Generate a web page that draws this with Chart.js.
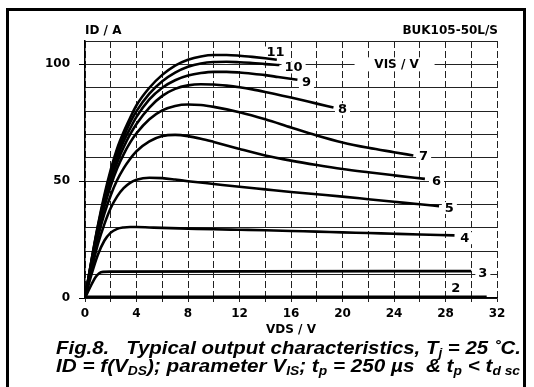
<!DOCTYPE html>
<html>
<head>
<meta charset="utf-8">
<title>BUK105-50L/S output characteristics</title>
<script src="https://cdn.jsdelivr.net/npm/chart.js@4.4.1/dist/chart.umd.min.js"></script>
<style>
  html, body { margin: 0; padding: 0; background: #fff; }
  #wrap { position: relative; width: 534px; height: 387px; overflow: hidden; background: #fff; }
  #frame { position: absolute; left: 6px; top: 8px; width: 520px; height: 440px; border: 3px solid #000; box-sizing: border-box; }
  #chart { position: absolute; left: 0; top: 0; }
  .cap { position: absolute; left: 56px; font: italic bold 18px "Liberation Sans", Arial, sans-serif; line-height: 18px; white-space: pre; color: #000; transform-origin: 0 0; }
  .cap sub { font-size: 12px; vertical-align: -3px; line-height: 0; }
</style>
</head>
<body>
<div id="wrap">
  <div id="frame"></div>
  <canvas id="chart" width="534" height="340"></canvas>
  <div class="cap" id="cap1" style="top:339px">Fig.8.   Typical output characteristics, T<sub>j</sub> = 25 ˚C.</div>
  <div class="cap" id="cap2" style="top:357px">ID = f(V<sub>DS</sub>); parameter V<sub>IS</sub>; t<sub>p</sub> = 250 µs  &amp; t<sub>p</sub> &lt; t<sub>d sc</sub></div>
</div>
<script>
// curves: drain voltage (V) and drain current (A), one pair per VIS value
const vds2 = [0, 0.15, 31.2];
const id2 = [0, 0.4, 0.4];
const vds3 = [0, 0.4, 0.8, 1.1, 1.4, 2, 30];
const id3 = [0, 4.6, 8.8, 10.6, 11.2, 11.3, 11.5];
const vds4 = [0, 0.5, 1, 1.5, 2, 2.5, 3, 3.5, 4, 5, 6, 8, 10, 12, 14, 16, 18, 20, 22, 24, 26, 28.7];
const id4 = [0, 10, 18.5, 24.5, 28, 29.6, 30.2, 30.4, 30.4, 30.2, 30, 29.7, 29.4, 29.2, 29, 28.7, 28.4, 28.1, 27.8, 27.5, 27.2, 26.8];
const vds5 = [0, 0.5, 1, 1.5, 2, 2.5, 3, 3.5, 4, 5, 6, 7, 8, 10, 12, 14, 16, 18, 20, 22, 24, 26, 27.5];
const id5 = [0, 12, 23, 31.5, 38.5, 43.5, 47, 49.3, 50.6, 51.5, 51.3, 50.7, 50, 48.8, 47.6, 46.5, 45.4, 44.4, 43.4, 42.3, 41.2, 40.1, 39.3];
const vds6 = [0, 0.5, 1, 1.5, 2, 2.5, 3, 3.5, 4, 5, 6, 7, 8, 9, 10, 12, 14, 16, 18, 20, 22, 24, 26.4];
const id6 = [0, 13.5, 26, 36, 44, 50.5, 55.5, 59.5, 62.8, 67, 69.3, 69.8, 69.3, 68.2, 66.8, 63.8, 61, 58.8, 56.9, 55.2, 53.8, 52.5, 51];
const vds7 = [0, 0.5, 1, 1.5, 2, 2.5, 3, 3.5, 4, 5, 6, 7, 8, 9, 10, 12, 14, 16, 18, 20, 22, 24, 25.5];
const id7 = [0, 14.5, 28, 39, 48, 55.5, 61.5, 66.5, 70.5, 76.5, 80.3, 82.2, 82.8, 82.6, 81.8, 79.5, 76.5, 73, 69.6, 66.6, 64.3, 62.4, 61];
const vds8 = [0, 0.5, 1, 1.5, 2, 2.5, 3, 3.5, 4, 5, 6, 7, 8, 9, 10, 11, 12, 13, 14, 15, 16, 17, 18, 19.3];
const id8 = [0, 15, 29, 41, 50.5, 58, 64.5, 70, 74.5, 81.5, 86.5, 89.5, 91, 91.5, 91.4, 90.9, 90.2, 89.3, 88.2, 87, 85.8, 84.5, 83.2, 81.5];
const vds9 = [0, 0.5, 1, 1.5, 2, 2.5, 3, 3.5, 4, 5, 6, 7, 8, 9, 10, 11, 12, 13, 14, 15, 16.5];
const id9 = [0, 15.5, 30, 42, 52, 60, 67, 72.5, 77.5, 85, 90, 93.2, 95.2, 96.3, 96.8, 96.8, 96.5, 96, 95.4, 94.6, 93.4];
const vds10 = [0, 0.5, 1, 1.5, 2, 2.5, 3, 3.5, 4, 5, 6, 7, 8, 9, 10, 11, 12, 13, 14, 15.1];
const id10 = [0, 16, 30.5, 43, 53.5, 62, 69, 75, 80, 87.5, 92.8, 96.5, 99, 100.4, 101, 101.1, 100.9, 100.6, 100.1, 99.7];
const vds11 = [0, 0.5, 1, 1.5, 2, 2.5, 3, 3.5, 4, 5, 6, 7, 8, 9, 10, 11, 12, 13, 14, 14.9];
const id11 = [0, 16, 31, 44, 55, 64, 71, 77, 82.5, 90, 95.5, 99.5, 102, 103.4, 104, 104, 103.7, 103.2, 102.6, 102];

// curve names (VIS / V) and where they are written, in axis units
const visNames = ['2', '3', '4', '5', '6', '7', '8', '9', '10', '11'];
const nameAtV = [28.8, 30.9, 29.5, 28.3, 27.3, 26.3, 20.0, 17.2, 16.2, 14.8];
const nameAtI = [4.3, 10.7, 25.6, 38.5, 50, 60.7, 80.8, 92.3, 98.7, 105.1];

const xTicksShown = [0, 4, 8, 12, 16, 20, 24, 28, 32];
const yTicksShown = [0, 50, 100];

const curves = [
  [vds2, id2], [vds3, id3], [vds4, id4], [vds5, id5], [vds6, id6],
  [vds7, id7], [vds8, id8], [vds9, id9], [vds10, id10], [vds11, id11]
];

const boldFont = { family: '"DejaVu Sans", sans-serif', size: 12, weight: 'bold' };

const labelsPlugin = {
  id: 'curveLabels',
  beforeDatasetsDraw(chart) {
    const { ctx, scales: { x, y } } = chart;
    ctx.save();
    ctx.textBaseline = 'middle';
    ctx.textAlign = 'center';
    // VIS / V heading inside the plot
    ctx.font = 'bold 12px "DejaVu Sans"';
    const vx = x.getPixelForValue(24.2), vy = y.getPixelForValue(100);
    ctx.fillStyle = '#fff';
    ctx.fillRect(vx - 42, vy - 7, 80, 14);
    ctx.fillStyle = '#000';
    ctx.fillText('VIS / V', vx, vy + 0.5);
    ctx.font = 'bold 13px "DejaVu Sans"';
    visNames.forEach((n, i) => {
      const px = x.getPixelForValue(nameAtV[i]);
      const py = y.getPixelForValue(nameAtI[i]);
      const w = ctx.measureText(n).width;
      ctx.fillStyle = '#fff';
      ctx.fillRect(px - w / 2 - 3, py - 6, w + 6, 12);
      ctx.fillStyle = '#000';
      ctx.fillText(n, px, py + 0.5);
    });
    ctx.restore();
  },
  afterDraw(chart) {
    const { ctx, chartArea } = chart;
    ctx.save();
    ctx.fillStyle = '#000';
    ctx.font = 'bold 12px "DejaVu Sans"';
    ctx.textBaseline = 'alphabetic';
    ctx.textAlign = 'left';
    ctx.fillText('ID / A', chartArea.left, 34);
    ctx.textAlign = 'right';
    ctx.fillText('BUK105-50L/S', chartArea.right + 1, 34);
    ctx.restore();
  }
};

new Chart(document.getElementById('chart'), {
  type: 'scatter',
  data: {
    datasets: curves.map((c, k) => ({
      label: 'VIS = ' + visNames[k] + ' V',
      data: c[0].map((v, i) => ({ x: v, y: c[1][i] })),
      showLine: true,
      borderColor: '#000',
      borderWidth: k === 0 ? 3 : 2.6,
      pointRadius: 0,
      fill: false,
      cubicInterpolationMode: 'monotone'
    }))
  },
  options: {
    responsive: false,
    devicePixelRatio: 1,
    animation: false,
    layout: { padding: { top: 41, right: 37, left: 0, bottom: 0 } },
    plugins: { legend: { display: false }, tooltip: { enabled: false } },
    scales: {
      x: {
        type: 'linear', min: 0, max: 32,
        afterFit: s => { s.height = 42; },
        ticks: {
          stepSize: 2, autoSkip: false, maxRotation: 0, padding: 5, color: '#000', font: boldFont,
          callback: v => xTicksShown.includes(v) ? String(v) : ''
        },
        grid: { color: '#222', lineWidth: 1, tickLength: 4 },
        border: { color: '#000', width: 1.5, dash: c => [7, 3] },
        title: { display: true, text: 'VDS / V', color: '#000', font: boldFont, padding: { top: 0, bottom: 3 } }
      },
      y: {
        type: 'linear', min: 0, max: 110,
        afterFit: s => { s.width = 85; },
        ticks: {
          stepSize: 10, padding: 9, color: '#000', font: boldFont,
          callback: v => yTicksShown.includes(v) ? String(v) : ''
        },
        grid: {
          color: '#222', lineWidth: 1, tickLength: 6,
          tickColor: c => (c.tick && yTicksShown.includes(c.tick.value)) ? '#000' : 'rgba(0,0,0,0)'
        },
        border: { color: '#000', width: 1.5 }
      }
    }
  },
  plugins: [labelsPlugin]
});

// fit the caption lines to the width they take in the figure
[['cap1', 465], ['cap2', 464]].forEach(([id, target]) => {
  const el = document.getElementById(id);
  const w = el.getBoundingClientRect().width;
  el.style.transform = 'scaleX(' + (target / w).toFixed(4) + ')';
});
</script>
</body>
</html>
